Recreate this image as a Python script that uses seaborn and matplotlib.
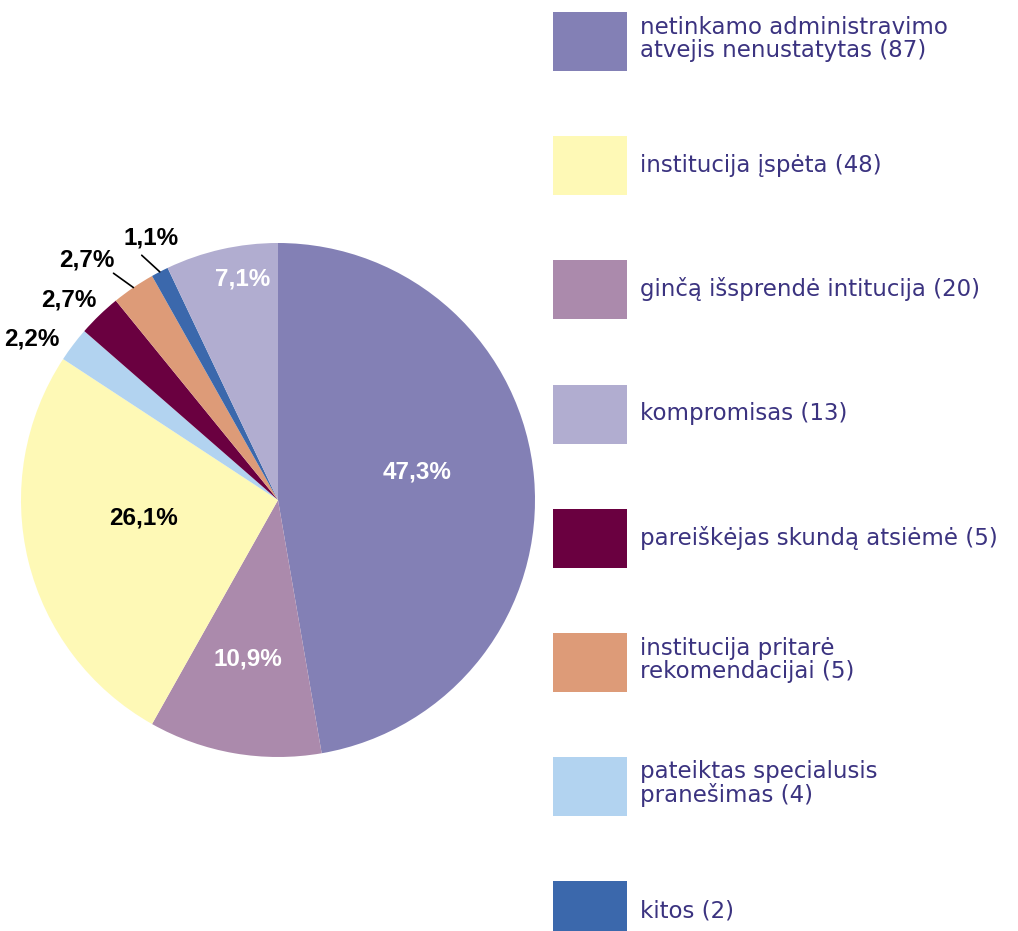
import numpy as np
import seaborn as sns
from matplotlib import pyplot as plt
from matplotlib.patches import Patch

# pie slices, clockwise from 12 o'clock
slice_names = ['netinkamo', 'gincas', 'ispeta', 'pateiktas', 'pareiskejas', 'pritare', 'kitos', 'kompromisas']
slice_counts = [87, 20, 48, 4, 5, 5, 2, 13]
slice_pct = ['47,3%', '10,9%', '26,1%', '2,2%', '2,7%', '2,7%', '1,1%', '7,1%']
slice_colors = ['#8380b5', '#ab8aac', '#fef9b6', '#b2d3f0', '#6a0040', '#dd9b78', '#3b68ac', '#b1add0']

# legend (own order)
legend_labels = [
    'netinkamo administravimo\natvejis nenustatytas (87)',
    'institucija įspėta (48)',
    'ginčą išsprendė intitucija (20)',
    'kompromisas (13)',
    'pareiškėjas skundą atsiėmė (5)',
    'institucija pritarė\nrekomendacijai (5)',
    'pateiktas specialusis\npranešimas (4)',
    'kitos (2)',
]
legend_colors = ['#8380b5', '#fef9b6', '#ab8aac', '#b1add0', '#6a0040', '#dd9b78', '#b2d3f0', '#3b68ac']

# label placement: radius, angle shift from slice middle, text colour, leader line
label_style = [
    (0.55, 6.5, 'white', False),
    (0.63, -1.0, 'white', False),
    (0.53, -6.0, 'black', False),
    (1.145, 4.0, 'black', False),
    (1.125, 2.3, 'black', False),
    (1.195, 4.3, 'black', True),
    (1.135, -1.5, 'black', True),
    (0.87, -3.5, 'white', False),
]

sns.set_style('white')
plt.rcParams['font.family'] = ['DejaVu Sans']

fig = plt.figure(figsize=(10.18, 9.31), dpi=100)
ax = fig.add_axes([21 / 1018, 174 / 931, 514 / 1018, 514 / 931])

wedges, _ = ax.pie(slice_counts, colors=slice_colors, startangle=90, counterclock=False,
                   radius=1.0, wedgeprops=dict(linewidth=0))

for w, pct, (r, shift, col, line) in zip(wedges, slice_pct, label_style):
    mid = (w.theta1 + w.theta2) / 2
    a = np.deg2rad(mid + shift)
    ax.text(r * np.cos(a), r * np.sin(a), pct, ha='center', va='center', color=col,
            fontsize=17.5, fontweight='bold', fontstretch='normal', family='Liberation Sans')
    if line:
        m = np.deg2rad(mid)
        ax.plot([1.0 * np.cos(m), 1.09 * np.cos(m + 0.03)], [1.0 * np.sin(m), 1.09 * np.sin(m + 0.03)],
                color='black', lw=1.2, clip_on=False)

ax.set_xlim(-1, 1)
ax.set_ylim(-1, 1)
ax.set_aspect('equal')
ax.axis('off')

handles = [Patch(facecolor=c, edgecolor='none') for c in legend_colors]
leg = fig.legend(handles, legend_labels, loc='upper left', bbox_to_anchor=(553 / 1018, 1 - 12 / 931),
                 frameon=False, fontsize=16.5, labelcolor='#3b3380', handlelength=3.23,
                 handleheight=3.59, labelspacing=2.84, handletextpad=0.57, borderpad=0,
                 borderaxespad=0)
for t in leg.get_texts():
    t.set_linespacing(1.0)

fig.savefig('out.png', dpi=100)
